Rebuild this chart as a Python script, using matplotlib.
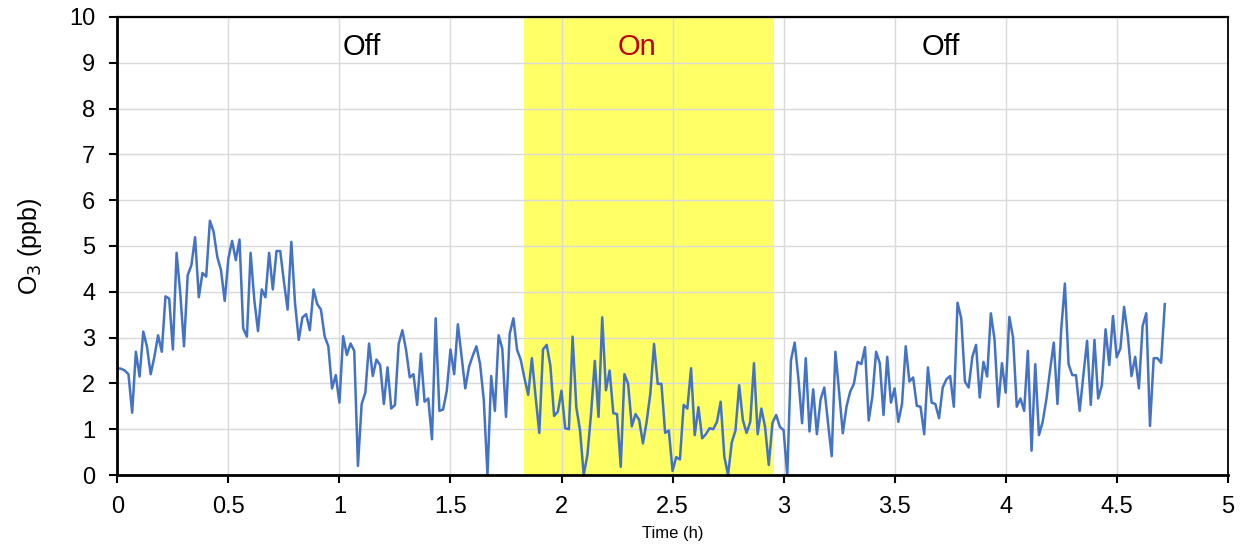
import numpy as np
import matplotlib.pyplot as plt

plt.rcParams['font.family'] = ['Liberation Sans', 'DejaVu Sans']

# O3 readings, one per minute
o3 = [2.33, 2.32, 2.28, 2.2, 1.36, 2.69, 2.15, 3.13, 2.8, 2.2,
      2.58, 3.05, 2.69, 3.9, 3.85, 2.74, 4.85, 3.96, 2.81, 4.36,
      4.58, 5.19, 3.88, 4.41, 4.33, 5.55, 5.31, 4.76, 4.47, 3.8,
      4.73, 5.11, 4.69, 5.14, 3.2, 3.02, 4.85, 3.82, 3.14, 4.05,
      3.88, 4.85, 4.05, 4.89, 4.89, 4.22, 3.61, 5.09, 3.75, 2.95,
      3.44, 3.51, 3.16, 4.05, 3.73, 3.61, 3.03, 2.81, 1.89, 2.18,
      1.58, 3.03, 2.62, 2.87, 2.71, 0.2, 1.55, 1.8, 2.87, 2.16,
      2.52, 2.4, 1.55, 2.35, 1.45, 1.53, 2.86, 3.16, 2.73, 2.13,
      2.2, 1.53, 2.65, 1.6, 1.67, 0.78, 3.42, 1.4, 1.43, 1.84,
      2.74, 2.2, 3.29, 2.58, 1.89, 2.36, 2.6, 2.81, 2.42, 1.64,
      0.0, 2.16, 1.4, 3.05, 2.76, 1.27, 3.08, 3.42, 2.73, 2.51,
      2.11, 1.75, 2.55, 1.71, 0.92, 2.74, 2.84, 2.38, 1.29, 1.38,
      1.84, 1.02, 1.0, 3.02, 1.48, 0.98, 0.0, 0.44, 1.35, 2.49,
      1.27, 3.44, 1.85, 2.28, 1.35, 1.33, 0.18, 2.2, 1.99, 1.06,
      1.33, 1.2, 0.69, 1.16, 1.78, 2.86, 1.99, 1.99, 0.92, 0.97,
      0.09, 0.39, 0.34, 1.53, 1.45, 2.33, 0.87, 1.48, 0.8, 0.89,
      1.02, 1.0, 1.16, 1.6, 0.4, 0.0, 0.71, 0.97, 1.96, 1.2,
      0.92, 1.16, 2.44, 0.89, 1.45, 1.05, 0.22, 1.14, 1.31, 1.05,
      0.98, 0.0, 2.51, 2.89, 2.11, 1.13, 2.55, 0.95, 1.87, 0.89,
      1.65, 1.91, 1.14, 0.41, 2.69, 1.82, 0.91, 1.49, 1.82, 1.99,
      2.47, 2.42, 2.79, 1.19, 1.72, 2.69, 2.44, 1.31, 2.58, 1.58,
      1.89, 1.16, 1.55, 2.81, 2.04, 2.13, 1.51, 1.49, 0.89, 2.35,
      1.58, 1.55, 1.24, 1.91, 2.09, 2.16, 1.49, 3.76, 3.42, 2.04,
      1.91, 2.58, 2.84, 1.69, 2.47, 2.15, 3.53, 2.96, 1.49, 2.44,
      1.8, 3.45, 3.0, 1.49, 1.67, 1.4, 2.71, 0.53, 2.42, 0.87,
      1.16, 1.65, 2.29, 2.89, 1.55, 3.16, 4.18, 2.42, 2.18, 2.18,
      1.4, 2.18, 2.93, 1.53, 2.95, 1.67, 1.96, 3.18, 2.4, 3.47,
      2.57, 2.76, 3.67, 3.05, 2.16, 2.58, 1.89, 3.25, 3.53, 1.07,
      2.55, 2.55, 2.45, 3.73]
t = np.arange(len(o3)) / 60.0

on_start, on_end = 1.833, 2.958
labels = ['Off', 'On', 'Off']
label_x = [1.1, 2.34, 3.71]
label_colors = ['black', '#C00000', 'black']

fig = plt.figure(figsize=(12.42, 5.48), dpi=100)
ax = fig.add_axes([0.0945, 0.1332, 0.894, 0.836])

ax.axvspan(on_start, on_end, color='#FFFF66', zorder=1, lw=0)
ax.plot(t, o3, color='#4472C4', lw=1.8, zorder=3)

for s, x, c in zip(labels, label_x, label_colors):
    ax.text(x, 9.35, s, ha='center', va='center', fontsize=21, color=c, zorder=4)

ax.set_xlim(0, 5)
ax.set_ylim(0, 10)
ax.set_xticks(np.arange(0, 5.01, 0.5))
ax.set_xticklabels(['0', '0.5', '1', '1.5', '2', '2.5', '3', '3.5', '4', '4.5', '5'])
ax.set_yticks(range(0, 11))
ax.grid(True, color='#D9D9D9', lw=1, zorder=2)
ax.set_axisbelow(False)
for gl in ax.get_xgridlines() + ax.get_ygridlines():
    gl.set_zorder(2)

ax.tick_params(direction='out', length=6, width=1.5, labelsize=17)
ax.tick_params(axis='y', pad=10)
ax.tick_params(axis='x', pad=9)
for side in ['left', 'bottom']:
    ax.spines[side].set_linewidth(2)
ax.spines['top'].set_linewidth(1.6)
ax.spines['right'].set_linewidth(1.3)
for sp in ax.spines.values():
    sp.set_zorder(5)

ax.set_ylabel('O$_3$ (ppb)', fontsize=18, labelpad=18)
ax.set_xlabel('Time (h)', fontsize=12, labelpad=6)

fig.savefig('out.png', dpi=100)
